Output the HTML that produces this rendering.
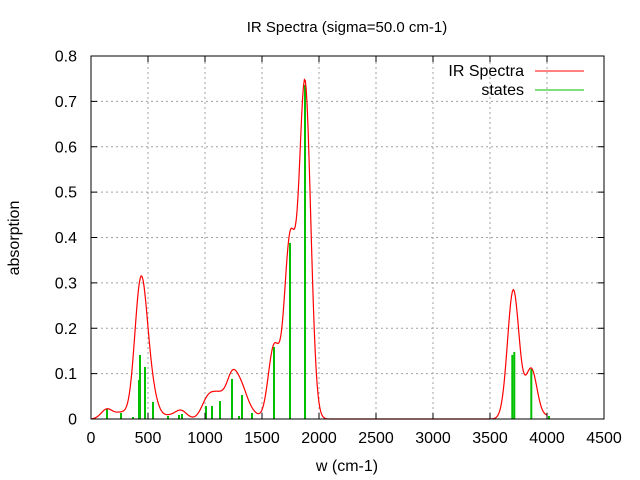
<!DOCTYPE html>
<html><head><meta charset="utf-8"><style>
html,body{margin:0;padding:0;background:#fff;}
svg{display:block;font-family:"Liberation Sans",sans-serif;font-size:16px;}
</style></head><body>
<svg id="s" width="640" height="480" xmlns="http://www.w3.org/2000/svg">
<rect width="640" height="480" fill="#fff"/>
<g id="grid" stroke="#a0a0a0" stroke-width="1" stroke-dasharray="2,3"></g>
<g id="bars" stroke="#00c000" stroke-width="2"></g>
<path id="curve" fill="none" stroke="#ff0000" stroke-width="1.2"/>
<g id="ticks" stroke="#000" stroke-width="1"></g>
<rect x="91" y="56" width="513" height="363" fill="none" stroke="#000" stroke-width="1"/>
<g id="labels" fill="#000"></g>
<text x="347" y="32" text-anchor="middle" font-size="15">IR Spectra (sigma=50.0 cm-1)</text>
<text x="347" y="471" text-anchor="middle">w (cm-1)</text>
<text transform="translate(19,238) rotate(-90)" text-anchor="middle">absorption</text>
<text x="524" y="76" text-anchor="end">IR Spectra</text>
<line x1="535" y1="71" x2="584" y2="71" stroke="#ff0000" stroke-width="1"/>
<text x="524" y="95" text-anchor="end">states</text>
<line x1="535" y1="90" x2="584" y2="90" stroke="#00c000" stroke-width="1"/>
</svg>
<script>
var NS="http://www.w3.org/2000/svg";
function el(p,t,a,txt){var e=document.createElementNS(NS,t);for(var k in a)e.setAttribute(k,a[k]);if(txt!==undefined)e.textContent=txt;document.getElementById(p).appendChild(e);}
var X0=91,X1=604,Y0=419,Y1=56;
function px(v){return X0+(X1-X0)*v/4500;}
function py(v){return Y0-(Y0-Y1)*v/0.8;}
for(var i=0;i<=9;i++){var x=px(i*500);
 if(i>0&&i<9)el("grid","line",{x1:x,y1:Y0,x2:x,y2:Y1});
 el("ticks","line",{x1:x,y1:Y0,x2:x,y2:Y0-6});el("ticks","line",{x1:x,y1:Y1,x2:x,y2:Y1+6});
 el("labels","text",{x:x,y:443,"text-anchor":"middle"},String(i*500));}
for(var j=0;j<=8;j++){var y=py(j*0.1);
 if(j>0&&j<8)el("grid","line",{x1:X0,y1:y,x2:X1,y2:y});
 el("ticks","line",{x1:X0,y1:y,x2:X0+6,y2:y});el("ticks","line",{x1:X1,y1:y,x2:X1-6,y2:y});
 el("labels","text",{x:77,y:y+5.5,"text-anchor":"end"},j==0?"0":(j/10).toFixed(1));}
var B=[[107,409],[121,413],[133,417],[139,380],[140,355],[145,367],[153,402],[168,416],[179,415],[182,414],[206,406],[212,406],[220,401],[232,379],[239,416],[242,395],[252,413],[274,347],[290,243],[305,85],[512.3,355],[514.3,352],[531.3,369],[549,416]];
var bars=B.map(function(b){return [(b[0]-X0)*4500/(X1-X0),(Y0-b[1])/(Y0-Y1)*0.8];});
bars.forEach(function(b){el("bars","line",{x1:px(b[0]),y1:Y0,x2:px(b[0]),y2:py(b[1])});});
var d="";
for(var w=0;w<=4000;w+=8){var s=0;bars.forEach(function(b){var z=(w-b[0])/50;s+=b[1]*Math.exp(-0.5*z*z);});
 d+=(w?"L":"M")+px(w).toFixed(2)+","+py(s).toFixed(2);}
document.getElementById("curve").setAttribute("d",d);
</script>
</body></html>
